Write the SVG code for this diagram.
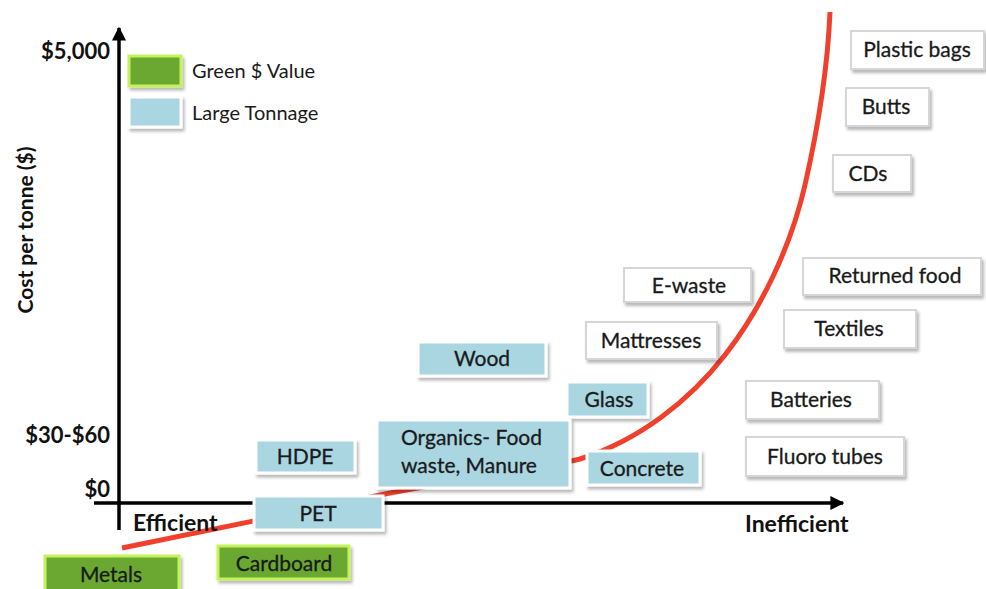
<svg xmlns="http://www.w3.org/2000/svg" width="986" height="589" viewBox="0 0 986 589">
<defs>
<filter id="sh" x="-10%" y="-20%" width="130%" height="150%">
<feDropShadow dx="2" dy="3" stdDeviation="1.5" flood-color="#000" flood-opacity="0.28"/>
</filter>
<marker id="arr" viewBox="0 0 10 10" refX="9" refY="5" markerWidth="4" markerHeight="4" orient="auto">
<path d="M0,0 L10,5 L0,10 z" fill="#000"/>
</marker>
</defs>
<style>
.w{fill:#fff;stroke:#d6d6d6;stroke-width:2;filter:url(#sh)}
.b{fill:#a9d6e1;stroke:#fff;stroke-width:3;filter:url(#sh)}
.g{fill:#6aa833;stroke:#c4f25a;stroke-width:3;filter:url(#sh)}
.t{font-family:Lato,"Open Sans",sans-serif;font-size:21px;fill:#1a1a1a;text-anchor:middle;stroke:#1a1a1a;stroke-width:0.3}
.ts{font-family:Lato,"Open Sans",sans-serif;font-size:21px;fill:#1a1a1a;text-anchor:start;stroke:#1a1a1a;stroke-width:0.3}
.ax{font-family:Lato,"Open Sans",sans-serif;font-weight:bold;fill:#111}
.lg{font-family:Lato,"Open Sans",sans-serif;font-size:20px;fill:#1a1a1a}
</style>
<rect width="986" height="589" fill="#fff"/>
<g id="connectors">
<line x1="119" y1="530" x2="119" y2="28" stroke="#000" stroke-width="3.5" marker-end="url(#arr)"/>
<line x1="94" y1="503" x2="843" y2="503" stroke="#000" stroke-width="3.5" marker-end="url(#arr)"/>
<path d="M122,548 L385,494 C470,478 540,468 580,459 C640,440 690,400 725,355 C760,310 790,250 805,185 C822,110 828,60 830,12" fill="none" stroke="#f0402c" stroke-width="5"/>
</g>
<g id="axis-labels">
<text class="ax" x="110" y="59" text-anchor="end" font-size="22">$5,000</text>
<text class="ax" x="110" y="443" text-anchor="end" font-size="22">$30-$60</text>
<text class="ax" x="110" y="497" text-anchor="end" font-size="22">$0</text>
<text class="ax" x="133" y="531" font-size="23">Efficient</text>
<text class="ax" x="745" y="532" font-size="23">Inefficient</text>
<text class="ax" transform="translate(33,230) rotate(-90)" text-anchor="middle" font-size="21">Cost per tonne ($)</text>
</g>
<g id="legend">
<rect class="g" x="129" y="56" width="52" height="30"/>
<text class="lg" x="192" y="78">Green $ Value</text>
<rect class="b" x="129" y="97" width="52" height="30"/>
<text class="lg" x="192" y="120">Large Tonnage</text>
</g>
<g id="node-plastic-bags"><rect class="w" x="851" y="31" width="133" height="38"/><text class="t" x="917" y="57">Plastic bags</text></g>
<g id="node-butts"><rect class="w" x="846" y="88" width="83" height="38"/><text class="t" x="886" y="114">Butts</text></g>
<g id="node-cds"><rect class="w" x="833" y="155" width="78" height="37"/><text class="t" x="868" y="181">CDs</text></g>
<g id="node-ewaste"><rect class="w" x="624" y="268" width="127" height="34"/><text class="t" x="689" y="293">E-waste</text></g>
<g id="node-returned-food"><rect class="w" x="803" y="258" width="178" height="37"/><text class="t" x="895" y="283">Returned food</text></g>
<g id="node-textiles"><rect class="w" x="784" y="310" width="132" height="38"/><text class="t" x="849" y="336">Textiles</text></g>
<g id="node-mattresses"><rect class="w" x="586" y="322" width="131" height="37"/><text class="t" x="651" y="348">Mattresses</text></g>
<g id="node-batteries"><rect class="w" x="746" y="381" width="133" height="38"/><text class="t" x="811" y="407">Batteries</text></g>
<g id="node-fluoro-tubes"><rect class="w" x="746" y="437" width="158" height="39"/><text class="t" x="825" y="464">Fluoro tubes</text></g>
<g id="node-wood"><rect class="b" x="418" y="342" width="128" height="34"/><text class="t" x="482" y="366">Wood</text></g>
<g id="node-glass"><rect class="b" x="567" y="382" width="81" height="35"/><text class="t" x="609" y="407">Glass</text></g>
<g id="node-organics"><rect class="b" x="377" y="420" width="193" height="68"/><text class="ts" x="401" y="445">Organics- Food </text><text class="ts" x="401" y="473">waste, Manure</text></g>
<g id="node-concrete"><rect class="b" x="587" y="451" width="113" height="34"/><text class="t" x="642" y="476">Concrete</text></g>
<g id="node-hdpe"><rect class="b" x="256" y="440" width="99" height="33"/><text class="t" x="305" y="464">HDPE</text></g>
<g id="node-pet"><rect class="b" x="254" y="496" width="129" height="34"/><text class="t" x="318" y="521">PET</text></g>
<g id="node-metals"><rect class="g" x="45" y="556" width="134" height="36"/><text class="t" x="111" y="582">Metals</text></g>
<g id="node-cardboard"><rect class="g" x="218" y="546" width="131" height="33"/><text class="t" x="284" y="571">Cardboard</text></g>
</svg>
